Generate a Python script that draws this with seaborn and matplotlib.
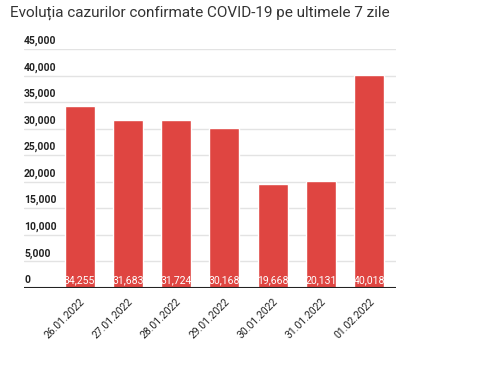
import pandas as pd
import matplotlib.pyplot as plt
import seaborn as sns

# data
dates = ['26.01.2022', '27.01.2022', '28.01.2022', '29.01.2022',
         '30.01.2022', '31.01.2022', '01.02.2022']
cases = [34255, 31683, 31724, 30168, 19668, 20131, 40018]
yticks = [0, 5000, 10000, 15000, 20000, 25000, 30000, 35000, 40000, 45000]

df = pd.DataFrame({'Data': dates, 'Cazuri': cases})

sns.set_style('white')
plt.rcParams['font.family'] = ['Roboto', 'DejaVu Sans']

fig = plt.figure(figsize=(4.83, 3.83), dpi=100)
ax = fig.add_axes([0.0497, 0.248, 0.77, 0.624])

sns.barplot(data=df, x='Data', y='Cazuri', color='#DF4541', width=0.62,
            saturation=1, ax=ax, zorder=2)

ax.set_ylim(0, 45000)
ax.set_xlim(-1.15, 6.55)

# light grid lines with labels sitting just above them
for t in yticks:
    if t > 0:
        ax.axhline(t, color='#e3e3e3', lw=1, zorder=0)
    ax.text(0.0, t + 550, f'{t:,}', transform=ax.get_yaxis_transform(),
            ha='left', va='bottom', fontsize=7.5, fontweight='bold', color='#222222')
ax.axhline(0, color='#222222', lw=1.5, zorder=3)

# value labels at the bottom of each bar
for i, v in enumerate(cases):
    ax.text(i, 450, f'{v:,}', ha='center', va='bottom', fontsize=7.6,
            color='white', zorder=4)

ax.set_yticks([])
ax.set_xticks(range(len(dates)))
ax.set_xticklabels(dates, rotation=45, ha='right', rotation_mode='anchor',
                   fontsize=7.5, color='#222222')
ax.tick_params(axis='x', length=0, pad=6)
ax.set_xlabel('')
ax.set_ylabel('')
sns.despine(ax=ax, left=True, bottom=True)

fig.text(0.021, 0.948, 'Evoluția cazurilor confirmate COVID-19 pe ultimele 7 zile',
         fontsize=11, color='#333333', ha='left', va='bottom')

fig.savefig('out.png', dpi=100)
